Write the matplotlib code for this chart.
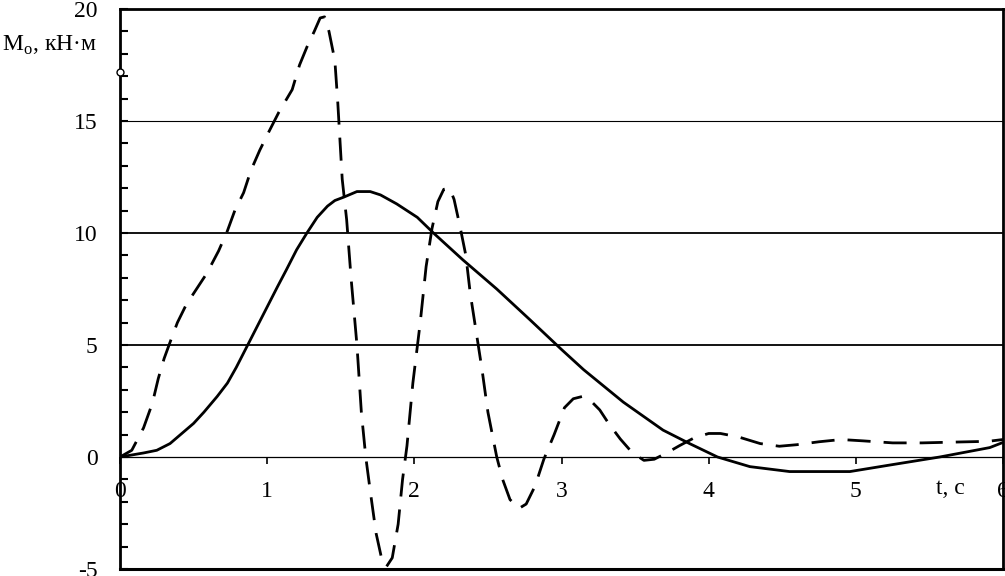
import matplotlib
matplotlib.use("Agg")
import matplotlib.pyplot as plt
from matplotlib.ticker import MultipleLocator

plt.rcParams['font.family'] = ['Liberation Serif', 'DejaVu Serif']
plt.rcParams['mathtext.fontset'] = 'custom'
plt.rcParams['mathtext.rm'] = 'Liberation Serif'

# Solid curve
t_solid = [0, 0.16, 0.25, 0.34, 0.42, 0.50, 0.57, 0.66, 0.73, 0.79, 0.86, 0.93,
           1.00, 1.07, 1.13, 1.20, 1.27, 1.34, 1.41, 1.46, 1.52,
           1.61, 1.70, 1.77, 1.88, 2.02, 2.13, 2.33, 2.56, 2.79, 3.00, 3.15, 3.42,
           3.69, 3.87, 4.06, 4.28, 4.55, 4.96, 5.23, 5.57, 5.91, 6.0]
m_solid = [0, 0.18, 0.3, 0.6, 1.05, 1.5, 2.0, 2.7, 3.3, 4.0, 4.9, 5.8,
           6.7, 7.6, 8.35, 9.25, 10.0, 10.7, 11.2, 11.45, 11.6,
           11.85, 11.85, 11.7, 11.3, 10.7, 10.0, 8.8, 7.5, 6.1, 4.8, 3.9, 2.45,
           1.2, 0.6, 0.0, -0.43, -0.65, -0.65, -0.36, 0.0, 0.42, 0.65]

# Dashed curve
t_dash = [0, 0.08, 0.16, 0.22, 0.26, 0.30, 0.35, 0.39, 0.45, 0.52, 0.59, 0.67,
          0.73, 0.78, 0.84, 0.89, 0.95, 1.01, 1.08, 1.17, 1.22, 1.27, 1.32, 1.36,
          1.39, 1.42, 1.46, 1.48, 1.51, 1.54, 1.57, 1.61, 1.64, 1.67, 1.70, 1.74,
          1.78, 1.81, 1.85, 1.89, 1.92, 1.95, 1.99, 2.04, 2.08, 2.12, 2.16, 2.20,
          2.24, 2.27, 2.31, 2.35, 2.38, 2.42, 2.46, 2.50, 2.53, 2.56, 2.60, 2.65,
          2.71, 2.76, 2.82, 2.88, 2.95, 3.02, 3.08, 3.14, 3.20, 3.26, 3.32, 3.40,
          3.48, 3.56, 3.63, 3.72, 3.80, 3.90, 4.0, 4.08, 4.20, 4.35, 4.48, 4.60,
          4.75, 4.90, 5.05, 5.25, 5.45, 5.70, 5.90, 6.0]
m_dash = [0, 0.3, 1.3, 2.4, 3.5, 4.4, 5.3, 6.0, 6.8, 7.5, 8.2, 9.2,
          10.1, 11.0, 11.8, 12.8, 13.7, 14.5, 15.4, 16.4, 17.5, 18.3, 19.0, 19.6,
          19.65, 19.0, 17.7, 15.8, 12.4, 10.6, 8.0, 5.0, 2.0, 0.0, -1.5, -3.4,
          -4.6, -4.9, -4.5, -3.0, -1.0, 0.5, 3.3, 6.0, 8.5, 10.2, 11.4, 11.95,
          12.0, 11.5, 10.3, 9.0, 7.3, 5.6, 3.9, 2.0, 1.0, 0.0, -1.0, -1.9,
          -2.3, -2.1, -1.3, -0.1, 1.0, 2.2, 2.6, 2.7, 2.5, 2.1, 1.5, 0.8,
          0.2, -0.15, -0.1, 0.2, 0.5, 0.85, 1.05, 1.05, 0.9, 0.6, 0.48, 0.55,
          0.68, 0.78, 0.72, 0.63, 0.63, 0.67, 0.70, 0.78]

x_ticks = [0, 1, 2, 3, 4, 5, 6]
y_ticks = [-5, 0, 5, 10, 15, 20]
marker_pt = (0, 17.2)

fig = plt.figure(figsize=(10.05, 5.76), dpi=100)
ax = fig.add_axes([120/1005, 7/576, (1003-120)/1005, (567-7)/576])
ax.set_xlim(0, 6)
ax.set_ylim(-5, 20)

# horizontal grid lines
ax.axhline(5, color='black', lw=1.3, zorder=1)
ax.axhline(10, color='black', lw=1.3, zorder=1)
ax.axhline(15, color='black', lw=0.8, zorder=1)
ax.axhline(-5, color='black', lw=2.2, zorder=3, clip_on=False)

ax.plot(t_solid, m_solid, color='black', lw=2.0, solid_capstyle='butt', zorder=4)
ln, = ax.plot(t_dash, m_dash, color='black', lw=2.0, zorder=4)
ln.set_dashes((8.3, 4.7))
ln.set_dash_capstyle('butt')

ax.plot([marker_pt[0]], [marker_pt[1]], marker='o', ms=5, mfc='white', mec='black',
        mew=1.0, clip_on=False, zorder=6)

# spines
ax.spines['bottom'].set_position(('data', 0))
ax.spines['bottom'].set_linewidth(0.9)
for s in ['left', 'right', 'top']:
    ax.spines[s].set_linewidth(2.0)

ax.set_xticks(x_ticks)
ax.set_xticklabels([str(v) for v in x_ticks])
ax.set_yticks(y_ticks)
ax.set_yticklabels([str(v) for v in y_ticks])
ax.yaxis.set_minor_locator(MultipleLocator(1))
ax.tick_params(axis='x', direction='out', length=5, width=1.2, pad=12, labelsize=17)
ax.tick_params(axis='y', which='both', direction='in', length=6, width=1.5,
               pad=16, labelsize=17)

ax.text(5.64, -1.4, 't, c', fontsize=17, ha='center', va='center')
fig.text(2/1005, 1 - 45/576, 'M$_{\\mathrm{o}}$, кН·м', fontsize=17,
         ha='left', va='center')

fig.savefig('out.png', dpi=100)
